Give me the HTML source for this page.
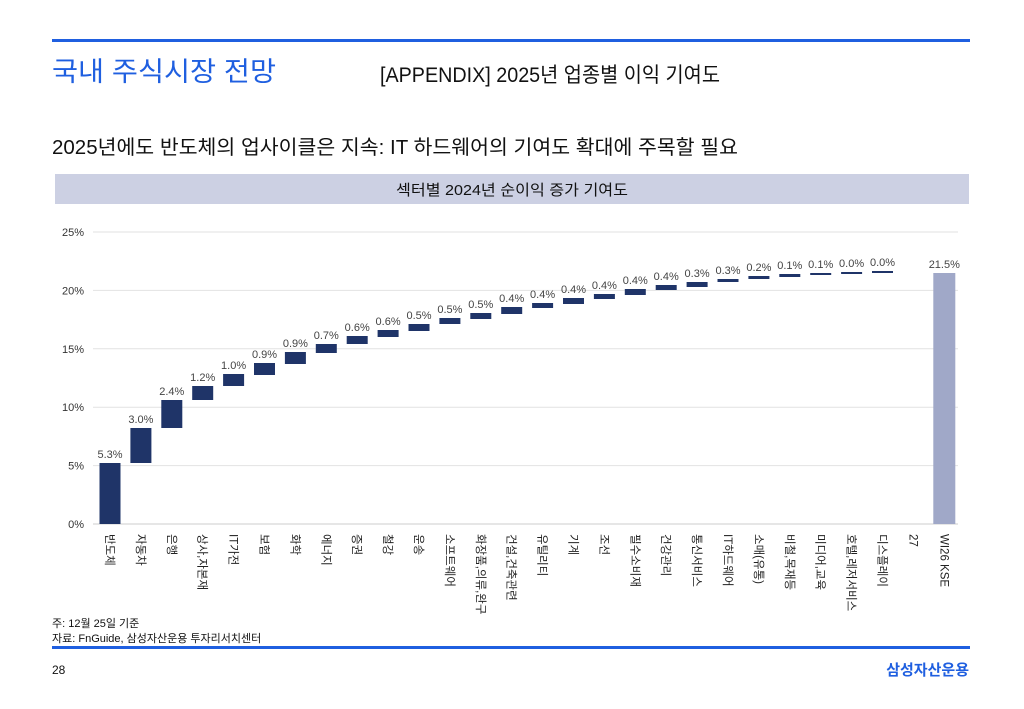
<!DOCTYPE html>
<html><head><meta charset="utf-8"><style>
body{margin:0;background:#fff}
svg{display:block}
text{font-family:"Liberation Sans","Noto Sans CJK KR",sans-serif}
</style></head><body>
<svg id="s" width="1024" height="709" xmlns="http://www.w3.org/2000/svg">
<rect x="52" y="39" width="918" height="3" fill="#1f5fe0"/>
<text x="52" y="81" font-size="27" fill="#1f5fe0" textLength="224" lengthAdjust="spacingAndGlyphs">국내 주식시장 전망</text>
<text x="380" y="82" font-size="21" fill="#111" textLength="340" lengthAdjust="spacingAndGlyphs">[APPENDIX] 2025년 업종별 이익 기여도</text>
<text x="52" y="154" font-size="20" fill="#111" textLength="686" lengthAdjust="spacingAndGlyphs">2025년에도 반도체의 업사이클은 지속: IT 하드웨어의 기여도 확대에 주목할 필요</text>
<rect x="55" y="174" width="914" height="30" fill="#ccd0e3"/>
<text x="512" y="195" font-size="15" fill="#111" text-anchor="middle" textLength="232" lengthAdjust="spacingAndGlyphs">섹터별 2024년 순이익 증가 기여도</text>
<g id="chart"></g>
<text x="52" y="627" font-size="11" fill="#111">주: 12월 25일 기준</text>
<text x="52" y="642" font-size="11" fill="#111">자료: FnGuide, 삼성자산운용 투자리서치센터</text>
<rect x="52" y="646" width="918" height="3" fill="#1f5fe0"/>
<text x="52" y="674" font-size="12" fill="#111">28</text>
<text x="969" y="675" font-size="15" font-weight="bold" fill="#1f5fe0" text-anchor="end">삼성자산운용</text>
</svg>
<script>
var g=document.getElementById('chart'),h='';
var y0=524,st=58.4;
for(var i=0;i<=5;i++){var y=y0-i*st;h+='<line x1="93" x2="958" y1="'+y+'" y2="'+y+'" stroke="'+(i==0?'#ccc':'#e2e2e2')+'" stroke-width="1"/>';
h+='<text x="84" y="'+(y+4)+'" font-size="11" fill="#333" text-anchor="end">'+(i*5)+'%</text>';}
var bars=[[463,524],[428,463],[400,428],[386,400],[374,386],[363,375],[352,364],[344,353],[336,344],[330,337],[324,331],[318,324],[313,319],[307,314],[303,308],[298,304],[294,299],[289,295],[285,290],[282,287],[279,282],[276,279],[274,277],[273,275],[272,274],[271,273]];
var labs=['5.3%','3.0%','2.4%','1.2%','1.0%','0.9%','0.9%','0.7%','0.6%','0.6%','0.5%','0.5%','0.5%','0.4%','0.4%','0.4%','0.4%','0.4%','0.4%','0.3%','0.3%','0.2%','0.1%','0.1%','0.0%','0.0%'];
var cats=['반도체','자동차','은행','상사,자본재','IT가전','보험','화학','에너지','증권','철강','운송','소프트웨어','화장품,의류,완구','건설,건축관련','유틸리티','기계','조선','필수소비재','건강관리','통신서비스','IT하드웨어','소매(유통)','비철,목재등','미디어,교육','호텔,레저서비스','디스플레이','27','WI26 KSE'];
var sp=30.9;
for(var i=0;i<26;i++){var cx=110+i*sp,t=bars[i][0],b=bars[i][1];
h+='<rect x="'+(cx-10.5)+'" y="'+t+'" width="21" height="'+(b-t)+'" fill="#1f3468"/>';
h+='<text x="'+cx+'" y="'+(t-5)+'" font-size="11" fill="#444" text-anchor="middle">'+labs[i]+'</text>';}
var cx=110+27*sp;
h+='<rect x="'+(cx-11)+'" y="273" width="22" height="251" fill="#a0a8c8"/>';
h+='<text x="'+cx+'" y="268" font-size="11" fill="#444" text-anchor="middle">21.5%</text>';
for(var i=0;i<cats.length;i++){var cx=110+i*sp;
h+='<text transform="translate('+(cx-4)+',534) rotate(90)" font-size="11.5" fill="#222">'+cats[i]+'</text>';}
g.innerHTML=h;
</script>
</body></html>
